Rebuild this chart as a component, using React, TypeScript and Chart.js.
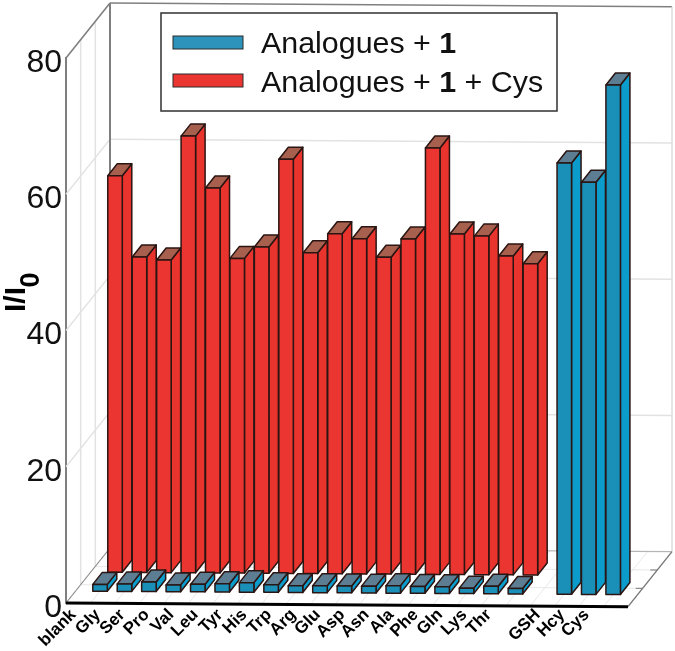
import React, { useEffect, useRef } from "react";
import { Chart, registerables, BarController, BarElement } from "chart.js";

Chart.register(...registerables);

const categories = ["", "blank", "Gly", "Ser", "Pro", "Val", "Leu", "Tyr", "His", "Trp", "Arg", "Glu", "Asp", "Asn", "Ala", "Phe", "Gln", "Lys", "Thr", "", "GSH", "Hcy", "Cys", ""];
const blueValues = [null, 1.0, 1.1, 1.4, 1.0, 1.1, 1.2, 1.4, 1.1, 1.0, 1.0, 1.0, 1.0, 1.1, 1.0, 1.0, 0.8, 1.1, 0.8, null, 63.3, 60.5, 74.8, null];
const redValues = [null, 58.2, 46.3, 45.9, 64.1, 56.5, 46.2, 47.9, 60.8, 47.1, 49.9, 49.2, 46.5, 49.2, 62.6, 50.0, 49.7, 46.8, 45.7, null, null, null, null, null];
const yTicks = [0, 20, 40, 60, 80];
const seriesLabels = ["Analogues + 1", "Analogues + 1 + Cys"];

const BLUE = "#1a90b9";
const RED = "#ea3530";
const FONT = '"Liberation Sans", Arial, sans-serif';
const LEFT = 66, RIGHT = 628, TOP = 58, BOTTOM = 603;
const DEPTH_X = 44, DEPTH_Y = -55, TILT = 0.0065;
const EDGE = "#2a1512";

const tiltAt = (x: number) => TILT * (x - LEFT);

const rowStyles: Record<string, any> = {
  [BLUE]: { side: "#0c9ccb", top: "#5c7d92", dx: 9.6, dy: -12 },
  [RED]: { side: "#e9332d", top: "#a8604e", dx: 24.6, dy: -31 },
};

class Bar3DElement extends BarElement {
  static id = "bar3d";
  static defaults = { ...BarElement.defaults };
  static overrides = BarElement.overrides;
  draw(ctx: CanvasRenderingContext2D) {
    const self = this as any;
    const style = rowStyles[self.options.backgroundColor];
    const w = 14.5, sx = 9.5, sy = -12;
    const l = self.x + style.dx - w / 2;
    const r = l + w;
    const t0 = tiltAt(self.x + style.dx);
    const top = self.y + style.dy + t0;
    const bot = self.base + style.dy + t0;
    ctx.save();
    ctx.lineWidth = 1.5;
    ctx.strokeStyle = EDGE;
    ctx.lineJoin = "round";
    const poly = (pts: number[][], fill: string) => {
      ctx.beginPath();
      pts.forEach((p, i) => (i ? ctx.lineTo(p[0], p[1]) : ctx.moveTo(p[0], p[1])));
      ctx.closePath();
      ctx.fillStyle = fill;
      ctx.fill();
      ctx.stroke();
    };
    poly([[r, top], [r + sx, top + sy], [r + sx, bot + sy], [r, bot]], style.side);
    poly([[l, top], [l + sx, top + sy], [r + sx, top + sy], [r, top]], style.top);
    poly([[l, top], [r, top], [r, bot], [l, bot]], self.options.backgroundColor);
    ctx.restore();
  }
}

class Bar3DController extends BarController {
  static id = "bar3d";
  static defaults = { ...BarController.defaults, dataElementType: "bar3d" };
  static overrides = BarController.overrides;
}

Chart.register(Bar3DElement as any, Bar3DController as any);

const framePlugin = {
  id: "frame3d",
  beforeDatasetsDraw(chart: any) {
    const { ctx, scales } = chart;
    const xs = scales.x, ys = scales.y;
    const p = (x: number, y: number, d: number): [number, number] => [x + DEPTH_X * d, y + DEPTH_Y * d + tiltAt(x)];
    const line = (a: number[], b: number[], color: string, width: number) => {
      ctx.beginPath();
      ctx.moveTo(a[0], a[1]);
      ctx.lineTo(b[0], b[1]);
      ctx.strokeStyle = color;
      ctx.lineWidth = width;
      ctx.stroke();
    };
    const grid = "#e2e2e2";
    const y0 = ys.getPixelForValue(0);
    const y80 = ys.getPixelForValue(80);
    ctx.save();
    // floor lines running front to back, one per category
    categories.forEach((_, i) => {
      if (i === 0 || i === categories.length - 1) return;
      const x = xs.getPixelForValue(i);
      line(p(x, y0, 0), p(x, y0, 1), "#e8e8e8", 1);
    });
    // floor lines parallel to the front edge
    [1 / 3, 2 / 3].forEach((d) => {
      line(p(LEFT, y0, d), p(RIGHT, y0, d), "#e8e8e8", 1);
      const e = p(RIGHT, y0, d);
      line([e[0] - 7, e[1]], e, "#777777", 1);
    });
    // side wall and back wall value lines
    yTicks.forEach((v) => {
      const y = ys.getPixelForValue(v);
      if (v > 0 && v < 80) {
        line(p(LEFT, y, 0), p(LEFT, y, 1), grid, 1.3);
        line(p(LEFT, y, 1), p(RIGHT, y, 1), grid, 1.5);
      }
    });
    [1 / 3, 2 / 3].forEach((d) => line(p(LEFT, y0, d), p(LEFT, y80, d), grid, 1.5));
    // outer frame
    const frame = "#7f7f7f";
    line(p(LEFT, y80, 0), p(LEFT, y80, 1), frame, 1.6);
    line(p(LEFT, y0, 0), p(LEFT, y0, 1), "#8a8a8a", 1.2);
    line(p(LEFT, y80, 1), p(LEFT, y0, 1), frame, 2);
    line(p(LEFT, y80, 1), p(RIGHT, y80, 1), frame, 1.5);
    line(p(LEFT, y0, 1), p(RIGHT, y0, 1), "#b5b5b5", 1.2);
    line(p(RIGHT, y80, 1), p(RIGHT, y0, 1), "#dddddd", 1.5);
    line(p(RIGHT, y0, 0), p(RIGHT, y0, 1), "#777777", 1.4);
    line(p(LEFT, y0, 0), p(RIGHT, y0, 0), "#000000", 3);
    ctx.restore();
  },
  afterDatasetsDraw(chart: any) {
    const { ctx } = chart;
    ctx.save();
    // legend box
    ctx.fillStyle = "#ffffff";
    ctx.strokeStyle = "#3d3d3d";
    ctx.lineWidth = 1.6;
    ctx.fillRect(161, 13, 396, 98);
    ctx.strokeRect(161, 13, 396, 98);
    const swatches = ["#2e93ba", RED];
    seriesLabels.forEach((label, i) => {
      const sy = 36 + i * 38;
      ctx.fillStyle = swatches[i];
      ctx.fillRect(173, sy, 70, 13);
      ctx.strokeStyle = "#2a2a2a";
      ctx.lineWidth = 1;
      ctx.strokeRect(173, sy, 70, 13);
      const baseY = 53 + i * 39;
      let x = 261;
      ctx.fillStyle = "#111111";
      ctx.textBaseline = "alphabetic";
      ctx.textAlign = "left";
      label.split("1").forEach((part, j) => {
        if (j > 0) {
          ctx.font = `bold 30.4px ${FONT}`;
          ctx.fillText("1", x, baseY);
          x += ctx.measureText("1").width;
        }
        ctx.font = `30.4px ${FONT}`;
        ctx.fillText(part, x, baseY);
        x += ctx.measureText(part).width;
      });
    });
    // y axis title with its subscript
    ctx.translate(25, 312);
    ctx.rotate(-Math.PI / 2);
    ctx.fillStyle = "#000000";
    ctx.font = `bold 30px ${FONT}`;
    ctx.fillText("I/I", 0, 0);
    const w = ctx.measureText("I/I").width;
    ctx.font = `bold 27px ${FONT}`;
    ctx.fillText("0", w - 0.5, 14);
    ctx.restore();
  },
};

export default function App() {
  const ref = useRef<HTMLCanvasElement>(null);
  useEffect(() => {
    const chart = new Chart(ref.current as any, {
      type: "bar3d" as any,
      data: {
        labels: categories,
        datasets: [
          { label: seriesLabels[0], data: blueValues, backgroundColor: BLUE, grouped: false, barThickness: 14, clip: false } as any,
          { label: seriesLabels[1], data: redValues, backgroundColor: RED, grouped: false, barThickness: 14, clip: false } as any,
        ],
      },
      plugins: [framePlugin as any],
      options: {
        responsive: false,
        animation: false,
        layout: { padding: { left: 0, right: 675 - RIGHT, top: TOP, bottom: 0 } },
        plugins: { legend: { display: false }, tooltip: { enabled: false }, title: { display: false } },
        scales: {
          x: {
            type: "category",
            offset: false,
            afterFit: (s: any) => { s.height = 651 - BOTTOM; s.paddingLeft = 0; s.paddingRight = 0; },
            grid: { display: false, drawTicks: false, tickLength: 0 },
            border: { display: false },
            ticks: {
              autoSkip: false,
              minRotation: 45,
              maxRotation: 45,
              labelOffset: -17,
              padding: 2,
              color: "#000000",
              font: { family: FONT, size: 17, weight: "bold" },
            },
          },
          y: {
            min: 0,
            max: 80,
            afterFit: (s: any) => { s.width = LEFT; s.paddingTop = 0; s.paddingBottom = 0; },
            afterBuildTicks: (s: any) => { s.ticks = yTicks.map((value) => ({ value })); },
            grid: { display: false, drawTicks: false, tickLength: 0 },
            border: { display: true, color: "#7f7f7f", width: 2 },
            ticks: {
              padding: 4,
              labelOffset: 5,
              color: "#111111",
              font: { family: FONT, size: 32 },
            },
          },
        },
      } as any,
    });
    return () => chart.destroy();
  }, []);
  return <canvas ref={ref} width={675} height={651} style={{ position: "absolute", left: 0, top: 0, display: "block" }} />;
}
